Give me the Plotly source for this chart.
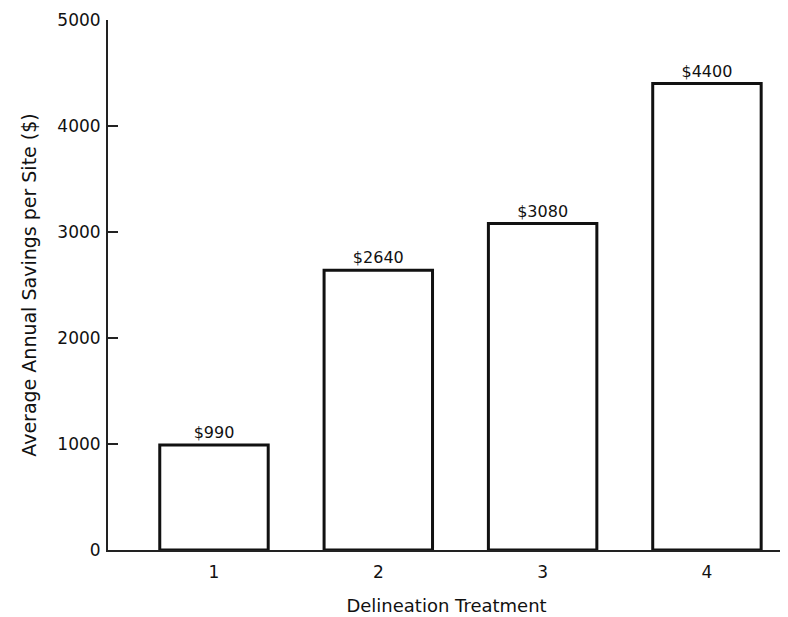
import plotly.graph_objects as go

treatments = [1, 2, 3, 4]
savings = [990, 2640, 3080, 4400]
labels = ["$990", "$2640", "$3080", "$4400"]
y_ticks = [0, 1000, 2000, 3000, 4000, 5000]

FONT = "DejaVu Sans, Liberation Sans, Arial"

fig = go.Figure(go.Bar(
    x=treatments, y=savings, width=0.66,
    marker=dict(color="white", line=dict(color="#111", width=3)),
    text=labels, textposition="outside", cliponaxis=False,
    textfont=dict(family=FONT, size=16, color="#111"),
))

fig.update_layout(
    width=780, height=609,
    margin=dict(l=100, r=3, t=12, b=67),
    paper_bgcolor="white", plot_bgcolor="white",
    font=dict(family=FONT, size=17, color="#111"),
    showlegend=False,
)
fig.update_xaxes(
    range=[0.355, 4.475], tickvals=treatments, ticks="", showgrid=False,
    showline=True, linecolor="#222", linewidth=2, zeroline=False,
    ticklabelstandoff=6,
    title=dict(text="Delineation Treatment", standoff=18, font=dict(size=18)),
    tickfont=dict(size=17),
)
fig.update_yaxes(
    range=[0, 5000], tickvals=y_ticks, ticks="inside", ticklen=10, tickwidth=2,
    tickcolor="#222", showgrid=False, showline=True, linecolor="#222", linewidth=2,
    zeroline=False, ticklabelstandoff=2,
    title=dict(text="Average Annual Savings per Site ($)", standoff=16, font=dict(size=19)),
    tickfont=dict(size=17),
)

fig.write_html("out.html")
